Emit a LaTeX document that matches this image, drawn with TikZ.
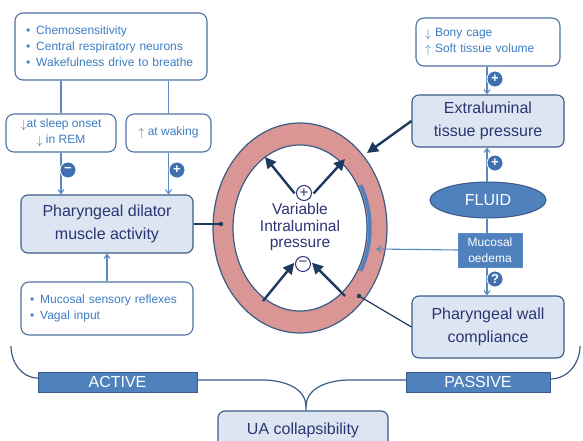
\documentclass[tikz,border=0pt]{standalone}
\usepackage{fontspec}
\setmainfont{Liberation Sans}
\usetikzlibrary{shapes.geometric,arrows.meta}
\definecolor{boxfill}{HTML}{DCE6F2}
\definecolor{boxedge}{HTML}{3B5B86}
\definecolor{listedge}{HTML}{4E73A3}
\definecolor{bluetext}{HTML}{3C7DC4}
\definecolor{navytext}{HTML}{2E3473}
\definecolor{linkblue}{HTML}{5A8AC6}
\definecolor{signblue}{HTML}{3F6FAE}
\definecolor{ringpink}{HTML}{D99694}
\definecolor{pushnavy}{HTML}{1F3A5F}
\definecolor{barblue}{HTML}{4F81BD}
\newcommand\sizebig{\fontsize{16}{23.5}\selectfont}
\newcommand\sizelist{\fontsize{12}{16}\selectfont}
\newcommand\arrdown{\raisebox{-1pt}{$\downarrow$}}
\newcommand\arrup{\raisebox{-1pt}{$\uparrow$}}

\begin{document}
\begin{tikzpicture}[x=1pt,y=1pt,
    mainbox/.style={draw=boxedge,fill=boxfill,line width=1.1pt,rounded corners=7pt,
      text=navytext,font=\sizebig,align=center},
    listbox/.style={draw=listedge,fill=white,line width=1.1pt,rounded corners=8pt,
      text=bluetext,font=\sizelist},
    signdot/.style={circle,fill=signblue,draw=white,line width=0.8pt,text=white,
      inner sep=0pt,minimum size=16pt,font=\bfseries\fontsize{13}{13}\selectfont},
    ringsign/.style={circle,draw=navytext,fill=white,line width=1pt,inner sep=0pt,
      minimum size=15pt,text=navytext,font=\fontsize{15}{15}\selectfont},
    sidebar/.style={draw=boxedge,fill=barblue,text=white,minimum height=20pt,
      font=\fontsize{16}{16}\selectfont},
    link/.style={draw=linkblue,line width=1.1pt},
    linkto/.style={link,-{Straight Barb[length=4pt,width=6pt]}},
    thrust/.style={draw=pushnavy,line width=2.4pt,-{Triangle[length=11pt,width=11pt]}},
    bracket/.style={draw=boxedge,line width=1.2pt}
  ]
  \useasboundingbox (0,0) rectangle (583,-441);

  % left column
  \node[listbox,minimum width=192pt,minimum height=67pt,text width=170pt,align=left] (chemo) at (111,-46.5)
    {\textbullet\hspace{6pt}Chemosensitivity\\
     \textbullet\hspace{6pt}Central respiratory neurons\\
     \textbullet\hspace{6pt}Wakefulness drive to breathe};
  \node[listbox,minimum width=110pt,minimum height=38pt,align=center,inner sep=2pt] (sleep) at (61,-133)
    {\arrdown at sleep onset\\\arrdown\ in REM};
  \node[listbox,minimum width=85pt,minimum height=38pt,align=center] (waking) at (168.5,-133)
    {\arrup\ at waking};
  \node[mainbox,minimum width=172pt,minimum height=58pt] (dilator) at (107,-224)
    {Pharyngeal dilator\\muscle activity};
  \node[listbox,minimum width=172pt,minimum height=53pt,text width=154pt,align=left] (reflex) at (107,-308.5)
    {\textbullet\hspace{6pt}Mucosal sensory reflexes\\
     \textbullet\hspace{6pt}Vagal input};

  % right column
  \node[listbox,minimum width=144pt,minimum height=48pt,text width=126pt,align=left] (bony) at (488,-42)
    {\arrdown\ Bony cage\\\arrup\ Soft tissue volume};
  \node[mainbox,minimum width=152pt,minimum height=52pt] (extra) at (488,-121)
    {Extraluminal\\tissue pressure};
  \node[ellipse,draw=boxedge,fill=barblue,line width=1pt,minimum width=116pt,minimum height=36pt,
    text=white,font=\sizebig] (fluid) at (488,-200) {FLUID};
  \node[draw=linkblue,fill=barblue,minimum width=64pt,minimum height=34pt,inner sep=1pt,
    text=white,align=center,font=\fontsize{12}{16.5}\selectfont] (oedema) at (490,-250) {Mucosal\\oedema};
  \node[mainbox,minimum width=152pt,minimum height=62pt] (wall) at (488,-327)
    {Pharyngeal wall\\compliance};

  % airway ring
  \node[ellipse,draw=boxedge,fill=ringpink,line width=1.2pt,minimum width=174pt,minimum height=210pt] (ringout) at (300,-228) {};
  \node[ellipse,draw=boxedge,fill=white,line width=1.2pt,minimum width=134pt,minimum height=166pt] (ringin) at (300,-228) {};
  \draw[barblue,line width=3.5pt] (ringin) ++(-30:70 and 86) arc[start angle=-30,end angle=30,x radius=70,y radius=86];
  \node[text=navytext,align=center,font=\fontsize{15.5}{16.5}\selectfont] (press) at (300,-227)
    {Variable\\Intraluminal\\pressure};
  \node[ringsign] (rplus) at (304,-193) {+};
  \node[ringsign] (rminus) at (303,-264) {−};
  \coordinate (ulwall) at (265,-157);
  \coordinate (urwall) at (345,-159);
  \coordinate (llwall) at (263,-301);
  \coordinate (lrwall) at (345,-296);
  \coordinate (dildot) at (221,-224);
  \coordinate (walldot) at (359,-296);
  \coordinate (extratip) at (367,-153);
  \coordinate (oedematip) at (376,-249);

  \draw[thrust,shorten <=3pt] (rplus.200) -- (ulwall);
  \draw[thrust,shorten <=3pt] (rplus.-20) -- (urwall);
  \draw[thrust,shorten >=2pt] (llwall) -- (rminus.160);
  \draw[thrust,shorten >=2pt] (lrwall) -- (rminus.20);
  \draw[thrust] (extra.west) -- (extratip);
  \draw[pushnavy,line width=1.2pt] (dilator.east) -- (dildot);
  \fill[pushnavy] (dildot) circle (2.2pt);
  \draw[pushnavy,line width=1.2pt] (wall.west) -- (walldot);
  \fill[pushnavy] (walldot) circle (2.2pt);
  \draw[linkto] (oedema.west) -- (oedematip);

  % connectors
  \draw[link] (chemo.south -| sleep.north) -- (sleep.north);
  \draw[link] (chemo.south -| waking.north) -- (waking.north);
  \draw[linkto] (sleep.south) -- (sleep.south |- dilator.north);
  \draw[linkto] (waking.south) -- (waking.south |- dilator.north);
  \draw[linkto] (reflex.north) -- (dilator.south);
  \draw[linkto] (bony.south -| 487,0) -- (extra.north -| 487,0);
  \draw[linkto] (fluid.north -| 487,0) -- (extra.south -| 487,0);
  \draw[link] (fluid.south -| 487,0) -- (oedema.north -| 487,0);
  \draw[linkto] (oedema.south -| 487,0) -- (wall.north -| 487,0);
  \node[signdot] at (68,-170) {−};
  \node[signdot] at (177,-170) {+};
  \node[signdot] at (495,-79) {+};
  \node[signdot] at (495,-163) {+};
  \node[signdot] at (495,-279) {?};

  % bottom
  \node[sidebar,minimum width=159pt] (active) at (117.5,-382) {ACTIVE};
  \node[sidebar,minimum width=144pt] (passive) at (478,-382) {PASSIVE};
  \node[mainbox,minimum width=170pt,minimum height=38pt] (ua) at (303,-430) {UA collapsibility};
  \coordinate (join) at (306,-407);
  \draw[bracket] (11,-346) to[out=-90,in=180] ([yshift=4pt]active.west);
  \draw[bracket] ([yshift=2pt]active.east) -- (262,-380) to[out=0,in=90] (join) -- (join |- ua.north);
  \draw[bracket] ([yshift=2pt]passive.west) -- (350,-380) to[out=180,in=90] (join);
  \draw[bracket] ([yshift=3pt]passive.east) to[out=0,in=-90] (580,-346);
\end{tikzpicture}
\end{document}
